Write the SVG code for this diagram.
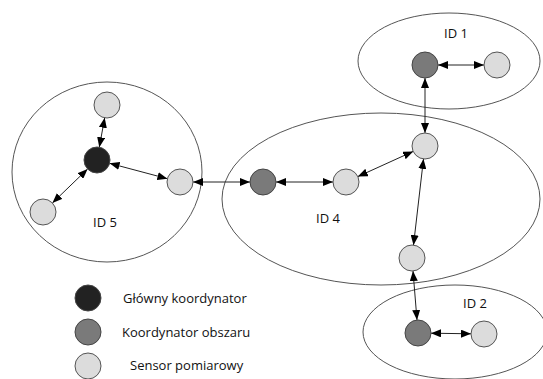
<svg xmlns="http://www.w3.org/2000/svg" width="543" height="379" viewBox="0 0 543 379">
<defs>
<style>
.area{fill:#fff;stroke:#555;stroke-width:1}
.main{fill:#222;stroke:#444;stroke-width:1}
.coord{fill:#7a7a7a;stroke:#444;stroke-width:1}
.sens{fill:#dcdcdc;stroke:#555;stroke-width:1}
.lbl{font-family:"Open Sans",sans-serif;font-size:13px;fill:#111;text-anchor:middle}
.leg{font-family:"Open Sans",sans-serif;font-size:13px;fill:#111}
.c{stroke:#222;stroke-width:1;fill:none;marker-start:url(#ah);marker-end:url(#ah)}
</style>
<marker id="ah" viewBox="0 0 10 8" refX="10" refY="4" markerWidth="10" markerHeight="8" markerUnits="userSpaceOnUse" orient="auto-start-reverse">
<path d="M0,0 L10,4 L0,8 Z" fill="#000"/>
</marker>
</defs>
<rect width="543" height="379" fill="#fff"/>
<g id="area-id5"><ellipse class="area" cx="107" cy="172" rx="95" ry="90"/><text class="lbl" x="105" y="227">ID 5</text></g>
<g id="area-id4"><ellipse class="area" cx="381" cy="199" rx="159" ry="86"/><text class="lbl" x="328" y="223">ID 4</text></g>
<g id="area-id1"><ellipse class="area" cx="449" cy="61" rx="91" ry="48"/><text class="lbl" x="456" y="38">ID 1</text></g>
<g id="area-id2"><ellipse class="area" cx="455" cy="332" rx="92" ry="47"/><text class="lbl" x="475" y="308">ID 2</text></g>
<g id="connectors">
<line class="c" x1="99.3" y1="147.2" x2="104.7" y2="117.8"/>
<line class="c" x1="87.6" y1="169" x2="52.4" y2="203"/>
<line class="c" x1="109.6" y1="163.3" x2="167.4" y2="178.7"/>
<line class="c" x1="193" y1="182" x2="250" y2="182"/>
<line class="c" x1="276" y1="182" x2="333" y2="182"/>
<line class="c" x1="357.8" y1="176.6" x2="413.2" y2="151.4"/>
<line class="c" x1="423.5" y1="158.9" x2="413.5" y2="245.1"/>
<line class="c" x1="425" y1="133" x2="425" y2="78"/>
<line class="c" x1="413" y1="271" x2="417" y2="320"/>
<line class="c" x1="438" y1="65" x2="484" y2="65"/>
<line class="c" x1="431" y1="333.2" x2="471" y2="333.8"/>
</g>
<g id="n-main"><circle class="main" cx="97" cy="160" r="13"/></g>
<g id="n5-top"><circle class="sens" cx="107" cy="105" r="13"/></g>
<g id="n5-left"><circle class="sens" cx="43" cy="212" r="13"/></g>
<g id="n5-right"><circle class="sens" cx="180" cy="182" r="13"/></g>
<g id="n4-coord"><circle class="coord" cx="263" cy="182" r="13"/></g>
<g id="n4-mid"><circle class="sens" cx="346" cy="182" r="13"/></g>
<g id="n4-top"><circle class="sens" cx="425" cy="146" r="13"/></g>
<g id="n4-bottom"><circle class="sens" cx="412" cy="258" r="13"/></g>
<g id="n1-coord"><circle class="coord" cx="425" cy="65" r="13"/></g>
<g id="n1-sens"><circle class="sens" cx="497" cy="65" r="13"/></g>
<g id="n2-coord"><circle class="coord" cx="418" cy="333" r="13"/></g>
<g id="n2-sens"><circle class="sens" cx="484" cy="334" r="13"/></g>
<g id="legend">
<circle class="main" cx="88" cy="298" r="13"/>
<circle class="coord" cx="88" cy="332" r="13"/>
<circle class="sens" cx="88" cy="366" r="13"/>
<text class="leg" x="123" y="303">Główny koordynator</text>
<text class="leg" x="122" y="337">Koordynator obszaru</text>
<text class="leg" x="130" y="370">Sensor pomiarowy</text>
</g>
</svg>
